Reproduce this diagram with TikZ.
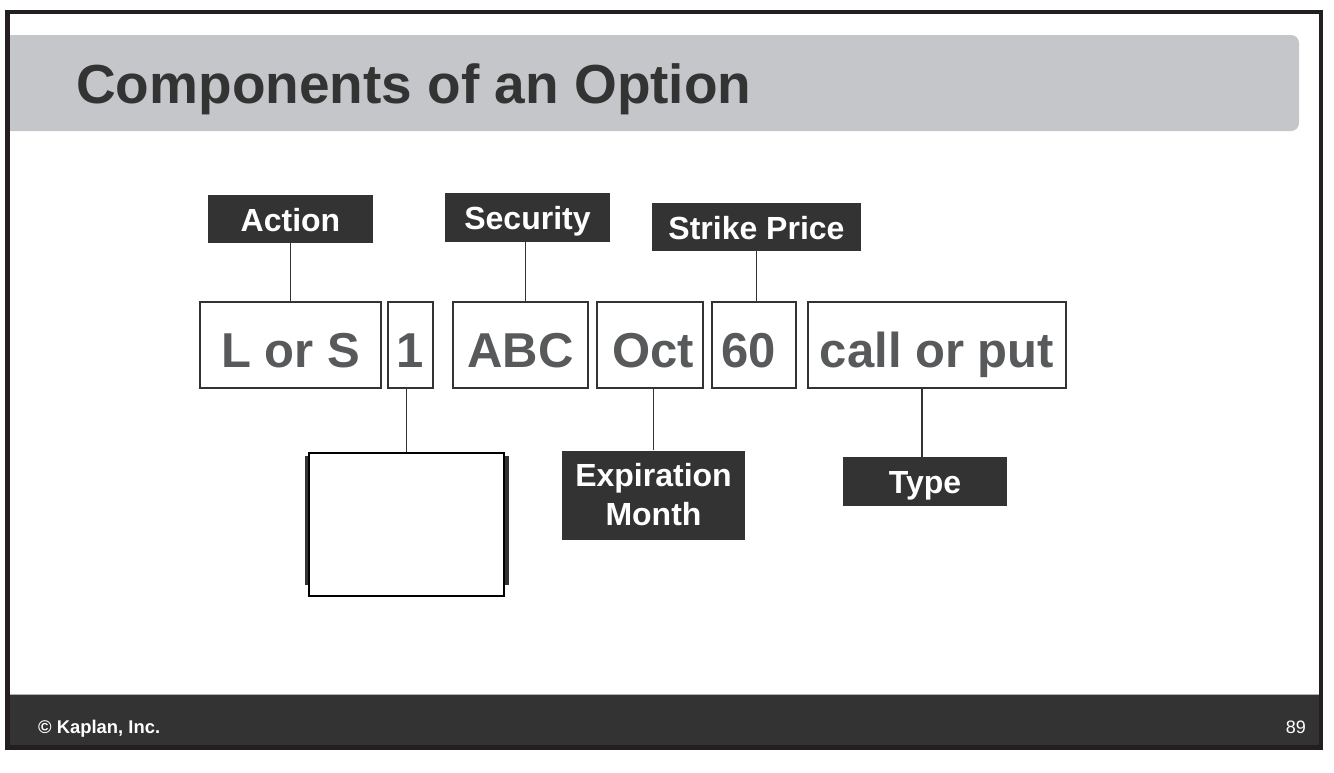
\documentclass[tikz,border=0pt]{standalone}
\usepackage{fontspec}
\setmainfont{Liberation Sans}
\definecolor{framec}{HTML}{231F20}
\definecolor{titlebg}{HTML}{C5C6C9}
\definecolor{darkc}{HTML}{333333}
\definecolor{boxtext}{HTML}{58595B}
\tikzset{
  valbox/.style={draw=darkc, line width=2.5pt, fill=white, inner sep=0pt,
    text=boxtext, font=\fontsize{49}{49}\selectfont\bfseries,
    text height=44pt, text depth=0pt},
  lblbase/.style={fill=darkc, inner sep=0pt, text=white,
    font=\fontsize{32}{39}\selectfont\bfseries},
  lblbox/.style={lblbase, text height=24pt, text depth=0pt},
  conn/.style={draw=darkc, line width=1.3pt}
}
\begin{document}
\begin{tikzpicture}[x=1pt,y=-1pt]
\useasboundingbox (0,0) rectangle (1334,772);
\fill[white] (0,0) rectangle (1334,772);
% title bar
\begin{scope}
\clip (10,0) rectangle (1334,772);
\fill[titlebg, rounded corners=8pt] (-20,35) rectangle (1299,131);
\end{scope}
\node[anchor=base west, text=darkc, font=\fontsize{55}{60}\selectfont\bfseries, inner sep=0pt] (title) at (76,103) {Components of an Option};
% footer
\fill[darkc] (9,694) rectangle (1320,746);
\draw[gray!60, line width=0.8pt] (10,694) -- (1319,694);
\node[anchor=base west, text=white, font=\fontsize{18.4}{20}\selectfont\bfseries, inner sep=0pt] (copy) at (38,733) {© Kaplan, Inc.};
\node[anchor=base east, text=white, font=\fontsize{18}{20}\selectfont, inner sep=0pt] (page) at (1306,733) {89};
% frame
\draw[framec, line width=4.5pt] (7.5,12) rectangle (1321,747.5);

% value boxes
\node[valbox, minimum width=181pt, minimum height=86pt] (lors) at (290.5,345) {L or S};
\node[valbox, minimum width=45pt, minimum height=86pt] (one) at (410.5,345) {1};
\node[valbox, minimum width=135pt, minimum height=86pt] (abc) at (520.5,345) {ABC};
\node[valbox, minimum width=106pt, minimum height=86pt, text width=106pt, align=center] (oct) at (650,345) {\hspace*{6pt}Oct};
\node[valbox, minimum width=84pt, minimum height=86pt, text width=84pt, align=center] (sixty) at (754,345) {60\hspace*{10pt}};
\node[valbox, minimum width=258pt, minimum height=86pt] (cop) at (937,345) {call or put};

% labels
\node[lblbox, minimum width=165pt, minimum height=48pt] (action) at (290.5,219) {Action};
\node[lblbox, minimum width=165pt, minimum height=49pt] (security) at (527.5,217.5) {Security};
\node[lblbox, minimum width=209pt, minimum height=48pt] (strike) at (756.5,227) {Strike Price};
\node[lblbase, minimum width=183pt, minimum height=89pt, align=center] (expir) at (653.5,495) {Expiration\\Month};
\node[lblbox, minimum width=164pt, minimum height=49pt] (type) at (925,481.5) {Type};
% empty answer box
\node[fill=darkc, inner sep=0pt, minimum width=204pt, minimum height=129pt] (emptyback) at (407,520.5) {};
\node[draw=black, line width=1.5pt, fill=white, inner sep=0pt, minimum width=195pt, minimum height=143pt] (empty) at (406.5,524.5) {};

% connectors
\draw[conn] (action.south) -- (action.south |- lors.north);
\draw[conn] ([xshift=-2pt]security.south) -- ([xshift=-2pt]security.south |- abc.north);
\draw[conn] (strike.south) -- (strike.south |- sixty.north);
\draw[conn] (expir.north) -- (expir.north |- oct.south);
\draw[conn] ([xshift=-3pt]type.north) -- ([xshift=-3pt]type.north |- cop.south);
\draw[conn] (empty.north) -- (empty.north |- one.south);
\end{tikzpicture}
\end{document}
